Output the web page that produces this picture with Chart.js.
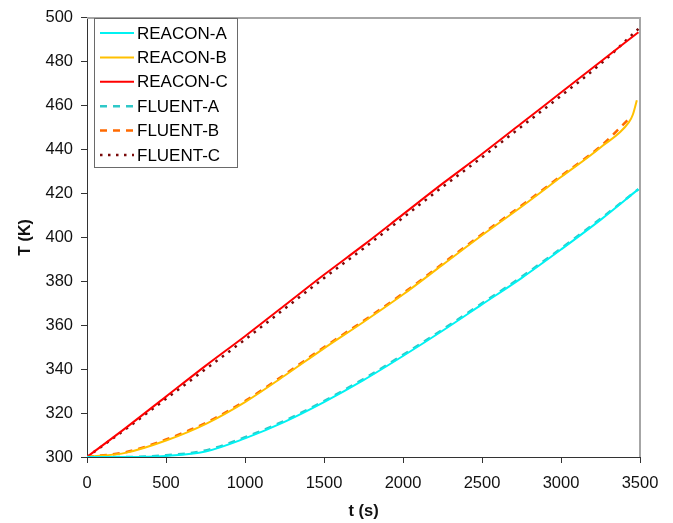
<!DOCTYPE html>
<html>
<head>
<meta charset="utf-8">
<script src="https://cdn.jsdelivr.net/npm/chart.js@4.4.1/dist/chart.umd.min.js"></script>
<style>
  html, body { margin: 0; padding: 0; background: #ffffff; }
  #wrap { width: 673px; height: 523px; position: relative; }
</style>
</head>
<body>
<div id="wrap"><canvas id="c" width="673" height="523"></canvas></div>
<script>
// ---- data ----
const seriesNames = ['REACON-A', 'REACON-B', 'REACON-C', 'FLUENT-A', 'FLUENT-B', 'FLUENT-C'];
const xTicks = [0, 500, 1000, 1500, 2000, 2500, 3000, 3500];
const yTicks = [300, 320, 340, 360, 380, 400, 420, 440, 460, 480, 500];

const timeA = [0, 250, 500, 750, 1000, 1250, 1500, 1750, 2000, 2250, 2500, 2750, 3000, 3250, 3490];
const reaconA = [300, 300, 300.5, 302.5, 308.5, 316, 325, 335, 346, 357.5, 369.5, 381.5, 394.5, 408, 422];
const fluentA = [300, 300, 300.8, 303, 309, 316.5, 325.5, 335.5, 346.5, 358, 370, 382, 395, 408.5, 422];

const timeB = [0, 250, 500, 750, 1000, 1250, 1500, 1750, 2000, 2250, 2500, 2750, 3000, 3250, 3430, 3455, 3480];
const reaconB = [300, 302, 307.5, 315, 325, 337, 349.5, 361.5, 374, 387.5, 401, 414, 427.5, 441, 452.5, 456, 462.5];
const timeFB = [0, 250, 500, 750, 1000, 1250, 1500, 1750, 2000, 2250, 2500, 2750, 3000, 3250, 3430];
const fluentB = [300, 302.3, 308, 315.5, 325.5, 337.5, 350, 362, 374.5, 388, 401.5, 414.5, 428, 441.5, 454];

const timeC = [0, 250, 500, 750, 1000, 1250, 1500, 1750, 2000, 2250, 2500, 2750, 3000, 3250, 3490];
const reaconC = [300, 313.5, 327.5, 341.5, 355, 369, 383, 396.5, 410.5, 424.5, 438, 452, 466, 480, 493.5];
const fluentC = [300, 313, 326.5, 340, 353.5, 367.5, 381.5, 395, 409, 423, 436.5, 450.5, 464.5, 479, 495];

// ---- styles ----
const colors = ['#00f2f2', '#ffc000', '#ff0000', '#2fc8c8', '#ff6a00', '#7a0a0a'];
const dashes = [[], [], [], [7, 6], [7, 6], [2.5, 5.5]];
const widths = [2, 2, 2, 2.5, 2.5, 2.5];

function pts(t, v) { return t.map((x, i) => ({ x: x, y: v[i] })); }
const seriesData = [
  pts(timeA, reaconA), pts(timeB, reaconB), pts(timeC, reaconC),
  pts(timeA, fluentA), pts(timeFB, fluentB), pts(timeC, fluentC)
];

const datasets = seriesNames.map((name, i) => ({
  label: name,
  data: seriesData[i],
  borderColor: colors[i],
  backgroundColor: colors[i],
  borderWidth: widths[i],
  borderDash: dashes[i],
  pointRadius: 0,
  cubicInterpolationMode: 'monotone',
  fill: false
}));

const FONT = "'Liberation Sans', Arial, sans-serif";

const framePlugin = {
  id: 'frame',
  beforeDatasetsDraw(chart) {
    const { ctx, chartArea: a } = chart;
    ctx.save();
    ctx.strokeStyle = '#a6a6a6';
    ctx.lineWidth = 2;
    ctx.beginPath();
    ctx.moveTo(a.left, a.top);
    ctx.lineTo(a.right, a.top);
    ctx.lineTo(a.right, a.bottom);
    ctx.stroke();
    ctx.restore();
  },
  afterDatasetsDraw(chart) {
    const { ctx } = chart;
    const bx = 94.5, by = 18.5, bw = 143, bh = 149;
    ctx.save();
    ctx.fillStyle = '#ffffff';
    ctx.fillRect(bx, by, bw, bh);
    ctx.strokeStyle = '#6a6a6a';
    ctx.lineWidth = 1;
    ctx.strokeRect(bx, by, bw, bh);
    ctx.font = '17px ' + FONT;
    ctx.textBaseline = 'middle';
    ctx.textAlign = 'left';
    chart.data.datasets.forEach((ds, i) => {
      const y = 33 + i * 24.4;
      ctx.beginPath();
      ctx.strokeStyle = ds.borderColor;
      ctx.lineWidth = ds.borderWidth;
      ctx.setLineDash(ds.borderDash || []);
      ctx.moveTo(100, y);
      ctx.lineTo(134, y);
      ctx.stroke();
      ctx.setLineDash([]);
      ctx.fillStyle = '#000000';
      ctx.fillText(ds.label, 137, y + 1);
    });
    ctx.restore();
  }
};

new Chart(document.getElementById('c'), {
  type: 'line',
  data: { datasets: datasets },
  options: {
    responsive: false,
    animation: false,
    devicePixelRatio: 1,
    layout: { padding: { left: 12, top: 14, right: 33, bottom: 0 } },
    plugins: { legend: { display: false }, tooltip: { enabled: false } },
    scales: {
      x: {
        type: 'linear',
        min: 0, max: 3500,
        afterBuildTicks(s) { s.ticks = xTicks.map(v => ({ value: v })); },
        afterFit(s) { s.height = 66; },
        grid: { drawOnChartArea: false, drawTicks: true, tickLength: 6, color: '#333333' },
        border: { display: true, color: '#333333', width: 1 },
        ticks: { color: '#111111', font: { family: FONT, size: 16.5 }, padding: 11, maxRotation: 0, callback: v => String(v) },
        title: { display: true, text: 't (s)', color: '#111111', font: { family: FONT, size: 16.5, weight: 'bold' }, padding: { top: 4, bottom: 2 } }
      },
      y: {
        type: 'linear',
        min: 300, max: 500,
        afterBuildTicks(s) { s.ticks = yTicks.map(v => ({ value: v })); },
        afterFit(s) { s.width = 75; },
        grid: { drawOnChartArea: false, drawTicks: true, tickLength: 6, color: '#333333' },
        border: { display: true, color: '#333333', width: 1 },
        ticks: { color: '#111111', font: { family: FONT, size: 16.5 }, padding: 8, callback: v => String(v) },
        title: { display: true, text: 'T (K)', color: '#111111', font: { family: FONT, size: 16, weight: 'bold' }, padding: { top: 4, bottom: 4 } }
      }
    }
  },
  plugins: [framePlugin]
});
</script>
</body>
</html>
